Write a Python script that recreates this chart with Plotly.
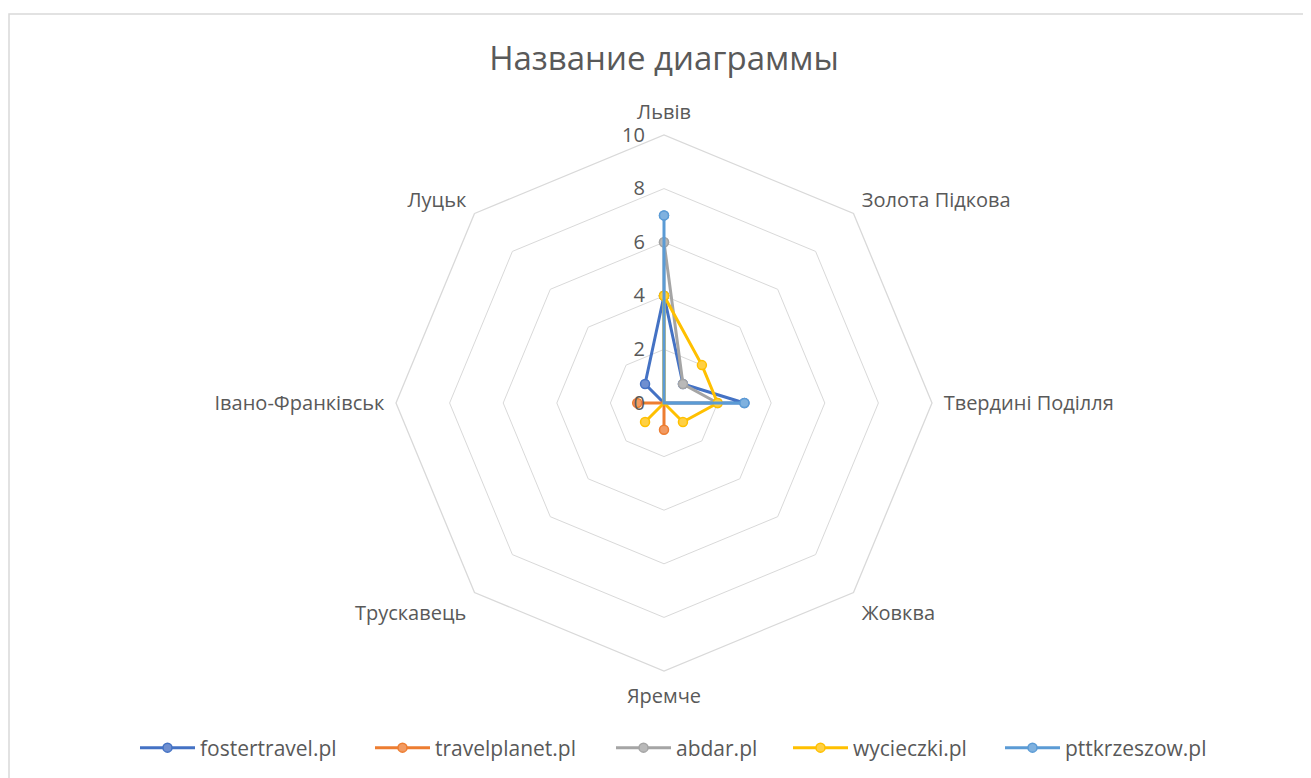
import plotly.graph_objects as go

categories = ["Львів", "Золота Підкова", "Твердині Поділля", "Жовква",
              "Яремче", "Трускавець", "Івано-Франківськ", "Луцьк"]

fostertravel = [4, 1, 3, 0, 0, 0, 0, 1]
travelplanet = [0, 0, 0, 0, 1, 0, 1, 0]
abdar = [6, 1, 2, 0, 0, 0, 0, 0]
wycieczki = [4, 2, 2, 1, 0, 1, 0, 0]
pttkrzeszow = [7, 0, 3, 0, 0, 0, 0, 0]

series = [
    ("fostertravel.pl", fostertravel, "#4472C4", "#6f8fd0"),
    ("travelplanet.pl", travelplanet, "#ED7D31", "#f29a61"),
    ("abdar.pl", abdar, "#A5A5A5", "#b9b9b9"),
    ("wycieczki.pl", wycieczki, "#FFC000", "#ffd044"),
    ("pttkrzeszow.pl", pttkrzeszow, "#5B9BD5", "#7fb1df"),
]

radial_ticks = [0, 2, 4, 6, 8, 10]

W, H = 1311, 778
OFF = 8  # page body margin
cx, cy, R = 664 - OFF, 403 - OFF, 268
legend_x = [140, 375, 616, 793, 1005]  # page px where each legend entry starts

TXT = "#595959"
GRID = "#d9d9d9"
FONT = "Open Sans"

NBSP = "\u00a0"
radial_text = [str(v) + NBSP * 3 for v in radial_ticks]

fig = go.Figure()
legends = {}
for i, (name, vals, col, fill) in enumerate(series):
    lname = "legend" if i == 0 else f"legend{i + 1}"
    fig.add_trace(go.Scatterpolar(
        r=vals + vals[:1],
        theta=categories + categories[:1],
        mode="lines+markers",
        name=name,
        legend=lname,
        showlegend=True,
        line=dict(color=col, width=3),
        marker=dict(size=9, color=fill, line=dict(color=col, width=1.5)),
    ))
    legends[lname] = dict(orientation="h", x=(legend_x[i] - OFF - 5) / W,
                          xanchor="left", y=1 - (748 - OFF) / H,
                          yanchor="middle", bgcolor="rgba(0,0,0,0)",
                          font=dict(size=21, color=TXT), itemwidth=55)

fig.update_layout(
    width=W, height=H,
    showlegend=True,
    margin=dict(l=0, r=0, t=0, b=0),
    paper_bgcolor="white",
    font=dict(family=FONT, color=TXT),
    title=dict(text="Название диаграммы", x=cx / W, xanchor="center",
               y=1 - (58 - OFF) / H, yanchor="middle",
               font=dict(size=33, color=TXT, family=FONT)),
    polar=dict(
        domain=dict(x=[(cx - R) / W, (cx + R) / W],
                    y=[1 - (cy + R) / H, 1 - (cy - R) / H]),
        gridshape="linear",
        bgcolor="white",
        radialaxis=dict(range=[0, 10], tickmode="array",
                        tickvals=radial_ticks, ticktext=radial_text,
                        angle=90, tickangle=90,
                        side="counterclockwise", showline=False, ticks="",
                        gridcolor=GRID, gridwidth=1.3,
                        tickfont=dict(size=20, color=TXT)),
        angularaxis=dict(direction="clockwise", rotation=90,
                         showgrid=False, showline=True, linecolor=GRID,
                         linewidth=1.3, ticks="outside", ticklen=7,
                         tickcolor="rgba(0,0,0,0)",
                         tickfont=dict(size=20, color=TXT)),
    ),
    shapes=[dict(type="rect", xref="paper", yref="paper",
                 x0=1 / W, x1=1.01, y0=-0.01, y1=1 - (14 - OFF) / H,
                 line=dict(color=GRID, width=1.5), fillcolor="rgba(0,0,0,0)")],
    **legends,
)

fig.write_html("out.html")
